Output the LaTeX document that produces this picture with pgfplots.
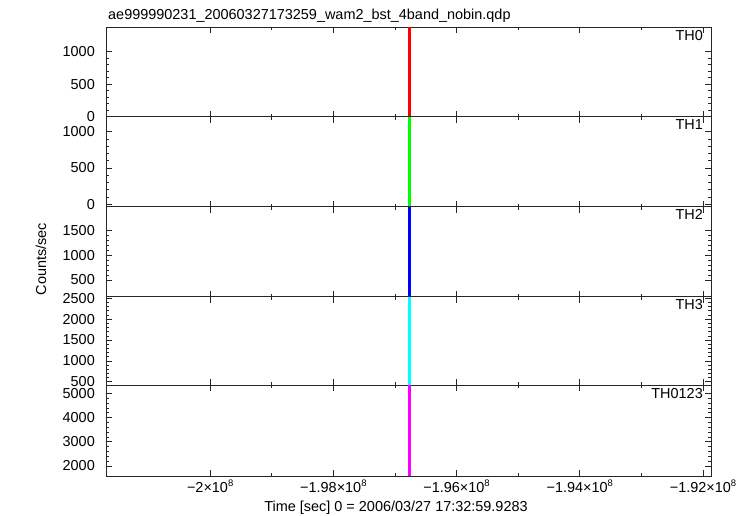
\documentclass[border=0pt]{standalone}
\usepackage{pgfplots}
\pgfplotsset{compat=1.18}
\usepackage{fontspec}
\setmainfont{Liberation Sans}
\newcommand{\sci}[1]{#1×10\raisebox{0.42em}{\fontsize{9.5}{10}\selectfont 8}}
\definecolor{cred}{RGB}{255,0,0}
\definecolor{cgreen}{RGB}{0,255,0}
\definecolor{cblue}{RGB}{0,0,255}
\definecolor{ccyan}{RGB}{0,255,255}
\definecolor{cmag}{RGB}{255,0,255}
\pgfplotsset{
  panel/.style={
    scale only axis, width=605bp, anchor=south west,
    xmin=-2.01691e8, xmax=-1.9187e8,
    xtick={-2e8,-1.98e8,-1.96e8,-1.94e8,-1.92e8},
    scaled x ticks=false, scaled y ticks=false,
    xticklabels={},
    minor x tick num=1, minor y tick num=4,
    tick align=inside, major tick length=6bp, minor tick length=3bp,
    axis line style={line width=0.8bp, black!85},
    every tick/.style={black!85, line width=0.6bp},
    /pgf/number format/assume math mode=true,
    /pgf/number format/1000 sep={},
    yticklabel style={anchor=east, inner sep=0pt, xshift=-11bp},
    tick label style={font=\fontsize{14.5}{17}\selectfont},
    clip=true,
  },
  spike/.style={draw=#1, line width=2.2bp, line cap=butt, mark=none},
}
\begin{document}
\begin{tikzpicture}[font=\fontsize{14.5}{17}\selectfont]
\useasboundingbox (0,0) rectangle (756bp,516bp);
% TH0
\begin{axis}[panel, name=p1, at={(106bp,399.3bp)}, height=89.7bp,
  ymin=-5, ymax=1384, ytick={0,500,1000}]
\addplot[spike=cred] coordinates {(-1.96764e8,0) (-1.96764e8,1384)};
\end{axis}
% TH1
\begin{axis}[panel, name=p2, at={(106bp,309.3bp)}, height=90bp,
  ymin=-35, ymax=1206, ytick={0,500,1000}]
\addplot[spike=cgreen] coordinates {(-1.96764e8,-35) (-1.96764e8,1206)};
\end{axis}
% TH2
\begin{axis}[panel, name=p3, at={(106bp,219.3bp)}, height=90bp,
  ymin=162, ymax=1986, ytick={500,1000,1500}]
\addplot[spike=cblue] coordinates {(-1.96764e8,162) (-1.96764e8,1986)};
\end{axis}
% TH3
\begin{axis}[panel, name=p4, at={(106bp,131bp)}, height=88.3bp,
  ymin=421, ymax=2538, ytick={500,1000,1500,2000,2500}]
\addplot[spike=ccyan] coordinates {(-1.96764e8,421) (-1.96764e8,2538)};
\end{axis}
% TH0123
\begin{axis}[panel, name=p5, at={(106bp,40bp)}, height=91bp,
  ymin=1587, ymax=5343, ytick={2000,3000,4000,5000},
  xticklabels={\sci{−2},\sci{−1.98},\sci{−1.96},\sci{−1.94},\sci{−1.92}},
  xticklabel style={anchor=north, inner sep=0pt, yshift=-4bp}]
\addplot[spike=cmag] coordinates {(-1.96764e8,1587) (-1.96764e8,5343)};
\end{axis}
% panel labels
\node[anchor=north east, inner sep=0pt] at ([xshift=-8bp,yshift=-3bp]p1.north east) {TH0};
\node[anchor=north east, inner sep=0pt] at ([xshift=-8bp,yshift=-3bp]p2.north east) {TH1};
\node[anchor=north east, inner sep=0pt] at ([xshift=-8bp,yshift=-3bp]p3.north east) {TH2};
\node[anchor=north east, inner sep=0pt] at ([xshift=-8bp,yshift=-3bp]p4.north east) {TH3};
\node[anchor=north east, inner sep=0pt] at ([xshift=-8bp,yshift=-3bp]p5.north east) {TH0123};
% title and labels
\node[anchor=base west, inner sep=0pt] at (108bp,496bp) {ae999990231\_20060327173259\_wam2\_bst\_4band\_nobin.qdp};
\node[rotate=90, anchor=center, inner sep=0pt] at (41bp,257bp) {Counts/sec};
\node[anchor=base, inner sep=0pt] at (396bp,5bp) {Time [sec] 0 = 2006/03/27 17:32:59.9283};
\end{tikzpicture}
\end{document}
